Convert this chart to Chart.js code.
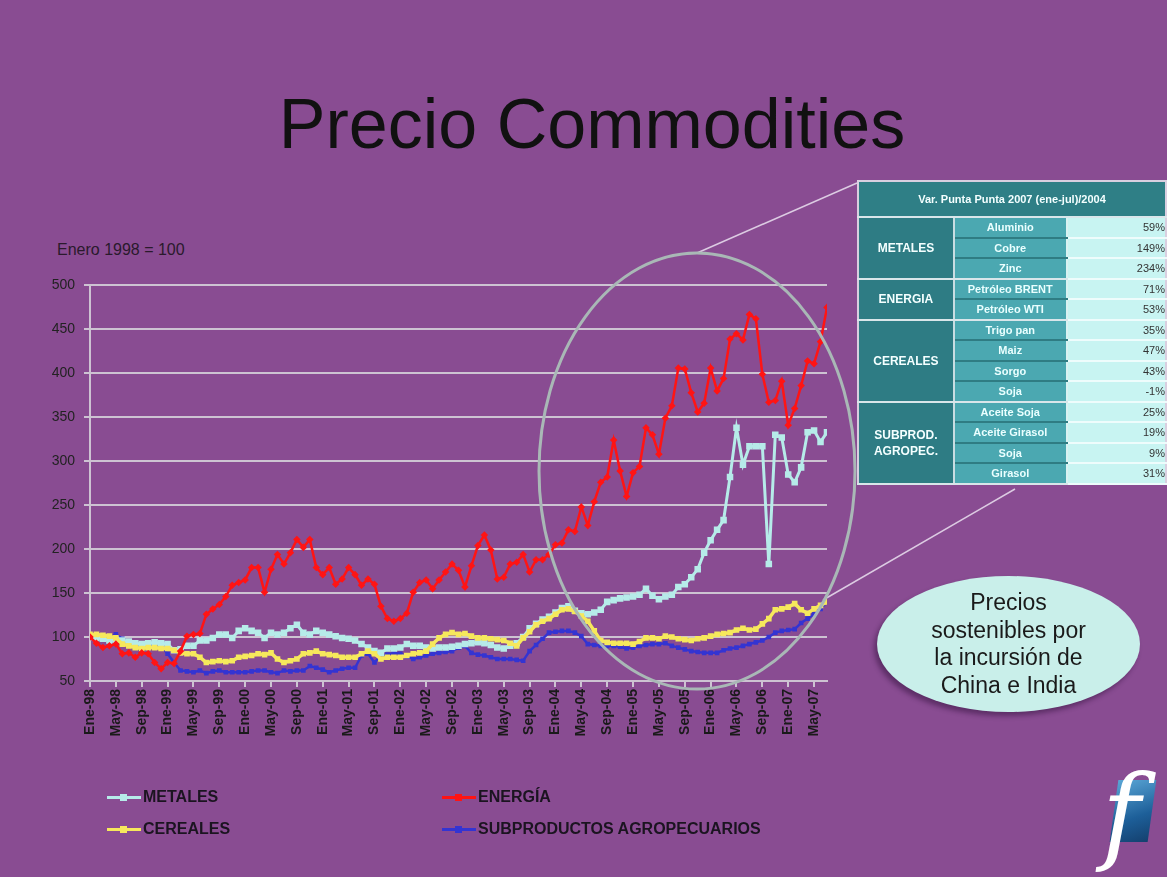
<!DOCTYPE html>
<html>
<head>
<meta charset="utf-8">
<script src="https://cdn.jsdelivr.net/npm/chart.js@4.4.1/dist/chart.umd.min.js"></script>
<style>
  body { margin: 0; background: #fff; font-family: "Liberation Sans", Arial, sans-serif; }
  #slide { position: absolute; left: 0; top: 0; width: 1167px; height: 877px; background: #894c92; overflow: hidden; }
  #title { position: absolute; left: 0; width: 1184px; top: 84px; text-align: center; font-size: 70px; color: #111; }
  #base { position: absolute; left: 57px; top: 241px; font-size: 16px; color: #2a1a2c; }
  #chart { position: absolute; left: 30px; top: 268px; }
  #overlay { position: absolute; left: 0; top: 0; pointer-events: none; }
  .leg { position: absolute; font-size: 16px; font-weight: bold; color: #1b1420; white-space: nowrap; }
  .leg .ln { position: absolute; left: -36px; top: 8px; width: 34px; height: 3px; }
  .leg .mk { position: absolute; left: -23px; top: 6px; width: 7px; height: 7px; }
  #tbl { position: absolute; left: 857px; top: 180px; border-collapse: collapse; border: 2px solid #d9cfe0; }
  #tbl td { padding: 0; height: 18.5px; border-bottom: 2px solid #d9e6ea; font-weight: bold; text-align: center; }
  #tbl td.hd { background: #2f7f86; color: #f4ffff; font-size: 11px; height: 34px; }
  #tbl td.gr { background: #2e7c84; color: #f4ffff; font-size: 12px; width: 95px; border-right: 2px solid #c9dde2; line-height: 16px; }
  #tbl td.it { background: #4ba8b1; color: #eaffff; font-size: 11px; width: 113px; border-bottom-color: #2f7c83; border-right: 2px solid #d9f2f2; }
  #tbl td.it.last { border-bottom-color: #d9e6ea; }
  #tbl td.vl { background: #c8f4f2; color: #333; font-size: 11px; font-weight: normal; width: 100px; text-align: right; padding-right: 0; border-bottom-color: #eefcfc; }
  #callout { position: absolute; left: 877px; top: 576px; width: 263px; height: 136px; border-radius: 50%; background: #c9efea;
             box-shadow: -3px 4px 5px rgba(40,10,50,0.45); text-align: center; font-size: 23px; line-height: 27.5px; color: #1a1a1a; }
  #callout div { padding-top: 13px; }
  #logo { position: absolute; left: 1114px; top: 780px; width: 38px; height: 62px; background: linear-gradient(160deg, #5aa6d6, #1d5f99 60%, #14406e); transform: skewX(-8deg); }
  #logoF { position: absolute; left: 1102px; top: 762px; font-family: "DejaVu Serif", serif; font-style: italic; font-size: 104px; color: #fff; line-height: 1; }
</style>
</head>
<body>
<div id="slide">
  <div id="title">Precio Commodities</div>
  <div id="base">Enero 1998 = 100</div>
  <canvas id="chart" width="810" height="490"></canvas>
  <svg id="overlay" width="1167" height="877">
    <line x1="697" y1="253" x2="857" y2="183" stroke="#dccbe2" stroke-width="1.5"/>
    <line x1="823" y1="600" x2="1015" y2="489" stroke="#dccbe2" stroke-width="1.5"/>
    <ellipse cx="697" cy="471" rx="158" ry="218" fill="none" stroke="#a9b8b6" stroke-width="3"/>
  </svg>
  <table id="tbl">
    <tr><td class="hd" colspan="3">Var. Punta Punta 2007 (ene-jul)/2004</td></tr>
    <tr><td class="gr" rowspan="3">METALES</td><td class="it">Aluminio</td><td class="vl">59%</td></tr>
    <tr><td class="it">Cobre</td><td class="vl">149%</td></tr>
    <tr><td class="it last">Zinc</td><td class="vl">234%</td></tr>
    <tr><td class="gr" rowspan="2">ENERGIA</td><td class="it">Petróleo BRENT</td><td class="vl">71%</td></tr>
    <tr><td class="it last">Petróleo WTI</td><td class="vl">53%</td></tr>
    <tr><td class="gr" rowspan="4">CEREALES</td><td class="it">Trigo pan</td><td class="vl">35%</td></tr>
    <tr><td class="it">Maiz</td><td class="vl">47%</td></tr>
    <tr><td class="it">Sorgo</td><td class="vl">43%</td></tr>
    <tr><td class="it last">Soja</td><td class="vl">-1%</td></tr>
    <tr><td class="gr" rowspan="4">SUBPROD.<br>AGROPEC.</td><td class="it">Aceite Soja</td><td class="vl">25%</td></tr>
    <tr><td class="it">Aceite Girasol</td><td class="vl">19%</td></tr>
    <tr><td class="it">Soja</td><td class="vl">9%</td></tr>
    <tr><td class="it last">Girasol</td><td class="vl">31%</td></tr>
  </table>
  <div id="callout"><div>Precios<br>sostenibles por<br>la incursión de<br>China e India</div></div>
  <div id="logo"></div>
  <div id="logoF">f</div>
  <div id="legend"></div>
</div>
<script>
// x axis labels, one every 4 months (Ene-98 .. May-07); data is monthly Ene-98 .. Jul-07
const tickLabels = ['Ene-98','May-98','Sep-98','Ene-99','May-99','Sep-99','Ene-00','May-00','Sep-00',
  'Ene-01','May-01','Sep-01','Ene-02','May-02','Sep-02','Ene-03','May-03','Sep-03','Ene-04','May-04',
  'Sep-04','Ene-05','May-05','Sep-05','Ene-06','May-06','Sep-06','Ene-07','May-07'];

const seriesNames = ['METALES', 'ENERGÍA', 'CEREALES', 'SUBPRODUCTOS AGROPECUARIOS'];

const energia = [100,93,88,90,92,81,82,77,82,81,
  71,64,71,70,84,101,103,104,126,132,
  137,146,159,162,165,179,179,151,177,194,
  183,196,211,202,211,179,171,179,160,166,
  179,171,159,166,160,135,121,118,121,127,
  151,162,165,155,165,174,183,176,157,181,
  204,216,199,166,168,183,185,194,174,188,
  188,194,205,207,222,220,248,227,254,276,
  282,324,289,260,287,294,338,330,308,349,
  363,406,405,378,356,366,406,380,394,439,
  445,438,467,462,399,367,369,391,341,360,
  386,414,411,436,475];

const metales = [100,99,98,96,97,96,95,93,92,93,
  94,93,92,85,86,90,90,96,96,99,
  103,103,99,107,110,107,105,99,105,103,
  105,110,114,105,103,107,105,103,101,99,
  98,96,92,88,84,82,87,87,88,92,
  90,90,88,87,88,88,89,90,92,93,
  94,93,91,88,87,90,93,100,110,115,
  120,123,128,133,135,130,127,126,128,131,
  140,142,144,145,146,148,155,147,143,146,
  148,157,160,168,177,196,210,222,233,282,
  338,296,317,317,317,183,330,327,285,276,
  293,333,335,322,333];

const cereales = [103,103,102,101,99,92,90,88,87,88,
  88,87,87,85,82,81,81,77,71,72,
  73,72,73,77,78,79,81,80,82,75,
  71,73,75,81,82,84,81,80,79,77,
  77,77,81,84,81,75,77,77,77,79,
  81,82,84,92,99,103,105,103,104,101,
  99,99,98,97,96,93,90,99,106,114,
  118,121,126,131,132,129,124,118,107,96,
  94,93,93,93,92,95,99,99,98,101,
  100,98,97,96,98,99,101,103,104,105,
  108,110,108,109,115,121,131,132,134,138,
  131,127,132,136,140];

const subproductos = [100,99,98,99,103,98,95,92,88,90,
  92,90,81,71,62,61,60,62,59,61,
  62,60,60,60,60,61,62,62,60,59,
  62,61,62,62,67,65,63,60,62,64,
  65,65,79,81,71,79,80,82,81,78,
  75,77,79,81,82,83,84,88,90,82,
  80,79,77,75,75,75,74,73,84,91,
  98,105,106,107,107,105,101,92,91,90,
  90,90,89,87,88,90,91,92,92,93,
  90,88,86,84,83,82,82,82,85,87,
  88,90,92,94,96,100,105,107,108,109,
  116,121,126,132,140];

const colors = { metales: '#b6ebe9', energia: '#ff1414', cereales: '#f6e85c', subproductos: '#3434d2' };

const toPoints = arr => arr.map((v, i) => ({ x: i, y: v }));

const datasets = [
  { label: seriesNames[1], data: toPoints(energia), borderColor: colors.energia, backgroundColor: colors.energia,
    borderWidth: 2.5, pointRadius: 2, pointStyle: 'rectRot' },
  { label: seriesNames[2], data: toPoints(cereales), borderColor: colors.cereales, backgroundColor: colors.cereales,
    borderWidth: 3.5, pointRadius: 1.5, pointStyle: 'rect' },
  { label: seriesNames[0], data: toPoints(metales), borderColor: colors.metales, backgroundColor: colors.metales,
    borderWidth: 3, pointRadius: 2.5, pointStyle: 'rect' },
  { label: seriesNames[3], data: toPoints(subproductos), borderColor: colors.subproductos, backgroundColor: colors.subproductos,
    borderWidth: 2.5, pointRadius: 1.5, pointStyle: 'rect' }
];

const gridColor = '#cdc3d2';

new Chart(document.getElementById('chart'), {
  type: 'line',
  data: { datasets },
  options: {
    responsive: false,
    animation: false,
    layout: { padding: { left: 0, right: 13, top: 10, bottom: 0 } },
    plugins: { legend: { display: false }, tooltip: { enabled: false } },
    elements: { line: { tension: 0 } },
    scales: {
      x: {
        type: 'linear', min: 0, max: 114,
        // one tick every 4 months, one per label
        afterBuildTicks: axis => { axis.ticks = tickLabels.map((_, k) => ({ value: k * 4 })); },
        afterFit: axis => { axis.height = 77; },
        ticks: {
          autoSkip: false, maxRotation: 90, minRotation: 90, padding: 2,
          color: '#1a1a1a', font: { family: '"Liberation Sans", Arial', size: 14, weight: 'bold' },
          callback: v => tickLabels[v / 4] || ''
        },
        grid: { drawOnChartArea: false, drawTicks: true, tickLength: 6, color: gridColor, lineWidth: 2 },
        border: { color: gridColor, width: 2 }
      },
      y: {
        min: 50, max: 500,
        afterFit: axis => { axis.width = 60; },
        ticks: { stepSize: 50, padding: 9, color: '#222', font: { family: '"Liberation Sans", Arial', size: 14 } },
        grid: { color: gridColor, lineWidth: 2, tickLength: 6 },
        border: { color: gridColor, width: 2 }
      }
    }
  }
});

// legend in two columns, built from the datasets
const legendPos = { 'METALES': [143, 788], 'ENERGÍA': [478, 788], 'CEREALES': [143, 820], 'SUBPRODUCTOS AGROPECUARIOS': [478, 820] };
const legend = document.getElementById('legend');
datasets.forEach(ds => {
  const [x, y] = legendPos[ds.label];
  const el = document.createElement('div');
  el.className = 'leg';
  el.style.left = x + 'px';
  el.style.top = y + 'px';
  el.innerHTML = '<span class="ln" style="background:' + ds.borderColor + '"></span>' +
                 '<span class="mk" style="background:' + ds.borderColor + '"></span>' + ds.label;
  legend.appendChild(el);
});
</script>
</body>
</html>
